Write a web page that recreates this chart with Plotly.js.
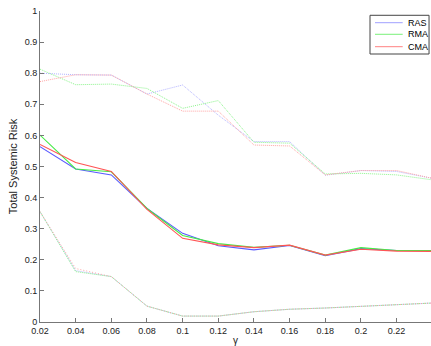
<!DOCTYPE html>
<html>
<head>
<meta charset="utf-8">
<script src="https://cdn.plot.ly/plotly-3.0.1.min.js"></script>
<style>html,body{margin:0;padding:0;background:#fff;}#chart{width:431px;height:346px;}</style>
</head>
<body>
<div id="chart"></div>
<script>
const gamma = [0.02, 0.04, 0.06, 0.08, 0.10, 0.12, 0.14, 0.16, 0.18, 0.20, 0.22, 0.24];

const rasMean = [0.564, 0.492, 0.473, 0.365, 0.285, 0.245, 0.232, 0.246, 0.213, 0.236, 0.230, 0.229];
const rmaMean = [0.601, 0.492, 0.483, 0.365, 0.278, 0.252, 0.240, 0.247, 0.215, 0.239, 0.230, 0.230];
const cmaMean = [0.571, 0.513, 0.484, 0.362, 0.269, 0.248, 0.239, 0.247, 0.215, 0.234, 0.228, 0.227];

const rasUpper = [0.800, 0.795, 0.794, 0.733, 0.762, 0.665, 0.580, 0.580, 0.472, 0.487, 0.484, 0.462];
const rmaUpper = [0.813, 0.763, 0.765, 0.751, 0.687, 0.712, 0.578, 0.575, 0.476, 0.478, 0.473, 0.457];
const cmaUpper = [0.773, 0.795, 0.794, 0.733, 0.678, 0.678, 0.569, 0.566, 0.473, 0.487, 0.487, 0.462];

const rasLower = [0.355, 0.165, 0.146, 0.051, 0.019, 0.019, 0.033, 0.041, 0.045, 0.051, 0.057, 0.061];
const rmaLower = [0.355, 0.162, 0.146, 0.051, 0.019, 0.019, 0.033, 0.041, 0.045, 0.051, 0.057, 0.061];
const cmaLower = [0.355, 0.172, 0.146, 0.051, 0.019, 0.019, 0.033, 0.041, 0.045, 0.051, 0.057, 0.061];

const names = ['RAS', 'RMA', 'CMA'];
const xTicks = [0.02, 0.04, 0.06, 0.08, 0.1, 0.12, 0.14, 0.16, 0.18, 0.2, 0.22];

const means = [rasMean, rmaMean, cmaMean];
const uppers = [rasUpper, rmaUpper, cmaUpper];
const lowers = [rasLower, rmaLower, cmaLower];
const solidColors = ['rgb(90,90,255)', 'rgb(70,235,70)', 'rgb(255,85,85)'];
const dotColors = ['rgb(180,180,255)', 'rgb(140,245,140)', 'rgb(255,165,165)'];
const legendColors = ['rgb(160,160,255)', 'rgb(120,240,120)', 'rgb(255,130,130)'];

const traces = [];
for (let i = 0; i < 3; i++) {
  traces.push({x: gamma, y: uppers[i], type: 'scatter', mode: 'lines', showlegend: false,
    line: {color: dotColors[i], width: 1, dash: '1px,1px'}});
  traces.push({x: gamma, y: lowers[i], type: 'scatter', mode: 'lines', showlegend: false,
    line: {color: dotColors[i], width: 1, dash: i === 2 ? '1px,2px' : '1px,1px'}});
}
for (let i = 0; i < 3; i++) {
  traces.push({x: gamma, y: means[i], type: 'scatter', mode: 'lines', name: names[i], showlegend: false,
    line: {color: solidColors[i], width: 1.1}});
}

// custom MATLAB-like legend box (paper coordinates)
const lg = {x0: 0.844, x1: 0.995, y0: 0.8617, y1: 0.9862, lx0: 0.8568, lx1: 0.9276, tx: 0.9361,
  rows: [0.9624, 0.9251, 0.8852]};
const shapes = [{type: 'rect', xref: 'paper', yref: 'paper', x0: lg.x0, x1: lg.x1, y0: lg.y0, y1: lg.y1,
  line: {color: '#444', width: 1}, fillcolor: '#fff', layer: 'above'}];
const annotations = [];
for (let i = 0; i < 3; i++) {
  shapes.push({type: 'line', xref: 'paper', yref: 'paper', x0: lg.lx0, x1: lg.lx1, y0: lg.rows[i], y1: lg.rows[i],
    line: {color: legendColors[i], width: 1}, layer: 'above'});
  annotations.push({xref: 'paper', yref: 'paper', x: lg.tx, y: lg.rows[i], xanchor: 'left', yanchor: 'middle',
    text: names[i], showarrow: false, font: {size: 9, color: '#000'}});
}

const layout = {
  width: 431, height: 346,
  margin: {l: 40, r: 0, t: 11, b: 24},
  paper_bgcolor: '#fff', plot_bgcolor: '#fff',
  font: {family: 'Liberation Sans, Arial, sans-serif', size: 9, color: '#222'},
  showlegend: false,
  shapes: shapes,
  annotations: annotations,
  xaxis: {range: [0.02, 0.2393], tickvals: xTicks,
    ticks: 'inside', ticklen: 4, tickcolor: '#777', showgrid: false, zeroline: false,
    showline: true, linecolor: '#777', linewidth: 1,
    title: {text: 'γ', font: {size: 10}, standoff: 4}},
  yaxis: {range: [0, 1], dtick: 0.1, tick0: 0,
    ticks: 'inside', ticklen: 4, tickcolor: '#777', showgrid: false, zeroline: false,
    showline: true, linecolor: '#777', linewidth: 1,
    title: {text: 'Total Systemic Risk', font: {size: 11}, standoff: 4}}
};

Plotly.newPlot('chart', traces, layout, {displayModeBar: false, staticPlot: true});
</script>
</body>
</html>
